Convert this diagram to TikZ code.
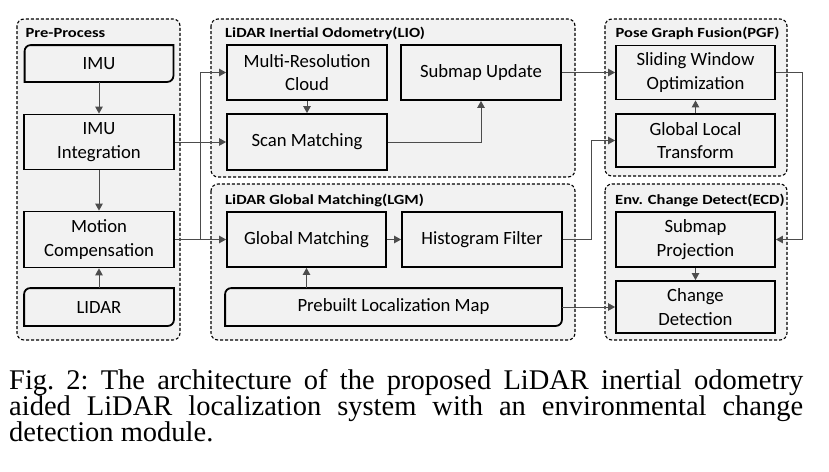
\documentclass[tikz,border=0pt]{standalone}
\usepackage{fontspec}
\setmainfont{Liberation Serif}
\setsansfont{Carlito}
\newfontfamily\titlefamily[FakeStretch=1.18]{Carlito}
\usetikzlibrary{arrows.meta}
\definecolor{paneback}{HTML}{F2F2F2}
\newcommand{\boxfont}{\sffamily\fontsize{18.7}{23.3}\selectfont}
\newcommand{\titlefont}{\titlefamily\bfseries\fontsize{14}{16}\selectfont}
\newcommand{\capfont}{\rmfamily\fontsize{28.5}{26.2}\selectfont\lineskiplimit=-20pt\frenchspacing}
\newcommand{\diagcorners}[1]{%
  % border with two opposite corners rounded
  \draw [line width=1.8pt,rounded corners=6pt] (#1.north) -- (#1.north west) -- (#1.west)
    [sharp corners] -- (#1.south west) -- (#1.south)
    [rounded corners=6pt] -- (#1.south east) -- (#1.east)
    [sharp corners] -- (#1.north east) -- cycle;
}

\begin{document}
\begin{tikzpicture}[x=1pt,y=-1pt,
    group/.style={draw,line width=1.1pt,dash pattern=on 3pt off 2pt,rounded corners=7pt,fill=paneback},
    block/.style={draw,line width=1.8pt,fill=paneback,align=center,font=\boxfont,inner sep=0pt},
    source/.style={block,draw=none},
    title/.style={anchor=base west,inner sep=0pt,font=\titlefont},
    link/.style={draw=black!70,line width=0.9pt,-{Triangle[length=7pt,width=7.5pt]}}]
  \useasboundingbox [fill=white] (0,0) rectangle (829,471);
  % modules
  \draw [group] (17,19) rectangle (180,340);
  \draw [group] (211,19) rectangle (575,177);
  \draw [group] (211,184) rectangle (575,340);
  \draw [group] (605,19) rectangle (787,176);
  \draw [group] (605,184) rectangle (787,340);
  \node [title] (tpre) at (25.5,37.5) {Pre-Process};
  \node [title] (tlio) at (225,37.5) {LiDAR Inertial Odometry(LIO)};
  \node [title] (tlgm) at (225,204.5) {LiDAR Global Matching(LGM)};
  \node [title] (tpgf) at (615.5,37.5) {Pose Graph Fusion(PGF)};
  \node [title] (tecd) at (615,204.5) {Env. Change Detect(ECD)};
  % pre-process
  \node [source,minimum width=147pt,minimum height=35pt] (imu) at (99,63.5) {IMU};
  \diagcorners{imu}
  \node [block,minimum width=150pt,minimum height=55pt] (imuint) at (99,142) {IMU\\Integration};
  \node [block,minimum width=150pt,minimum height=56pt] (mc) at (99,239.5) {Motion\\Compensation};
  \node [source,minimum width=148pt,minimum height=36pt] (lidar) at (99,307) {LIDAR};
  \diagcorners{lidar}
  % lidar inertial odometry
  \node [block,minimum width=160pt,minimum height=55pt] (mrc) at (307,72.5) {Multi-Resolution\\Cloud};
  \node [block,minimum width=160pt,minimum height=56pt] (sm) at (307,142) {Scan Matching};
  \node [block,minimum width=160pt,minimum height=55pt] (su) at (481,72.5) {Submap Update};
  % lidar global matching
  \node [block,minimum width=159pt,minimum height=55pt] (gm) at (306.5,239.5) {Global Matching};
  \node [block,minimum width=160pt,minimum height=55pt] (hf) at (482,239.5) {Histogram Filter};
  \node [source,minimum width=335pt,minimum height=36pt] (pm) at (393.5,307) {Prebuilt Localization Map};
  \diagcorners{pm}
  % pose graph fusion
  \node [block,minimum width=159pt,minimum height=54pt] (swo) at (695.5,72.5) {Sliding Window\\Optimization};
  \node [block,minimum width=159pt,minimum height=53pt] (glt) at (695.5,140.5) {Global Local\\Transform};
  % change detection
  \node [block,minimum width=159pt,minimum height=55pt] (sp) at (695.5,239.5) {Submap\\Projection};
  \node [block,minimum width=159pt,minimum height=52pt] (cd) at (695.5,307) {Change\\Detection};
  % connections
  \coordinate (fork) at (200,239.5);
  \draw [link] (imu) -- (imuint);
  \draw [link] (imuint) -- (mc);
  \draw [link] (lidar) -- (mc);
  \draw [link] (imuint.east) -- (sm.west);
  \draw [link] (mc.east) -- (gm.west);
  \draw [link] (fork) |- (mrc.west);
  \draw [link] (mrc) -- (sm);
  \draw [link] (sm.east) -| (su.south);
  \draw [link] (su.east) -- (swo.west);
  \draw [link] (gm) -- (hf);
  \draw [link] (gm.south |- pm.north) -- (gm.south);
  \draw [link] (hf.east) -- ++(29,0) |- (glt.west);
  \draw [link] (glt) -- (swo);
  \draw [link] (swo.east) -- ++(27,0) |- (sp.east);
  \draw [link] (sp) -- (cd);
  \draw [link] (pm.east) -- (cd.west);
  % caption
  \node [anchor=base west,inner sep=0pt,align=left,font=\capfont] (cap) at (9,441.7)
    {\makebox[794pt][s]{Fig. 2: The architecture of the proposed LiDAR inertial odometry}\\
     \makebox[794pt][s]{aided LiDAR localization system with an environmental change}\\
     detection module.};
\end{tikzpicture}
\end{document}
